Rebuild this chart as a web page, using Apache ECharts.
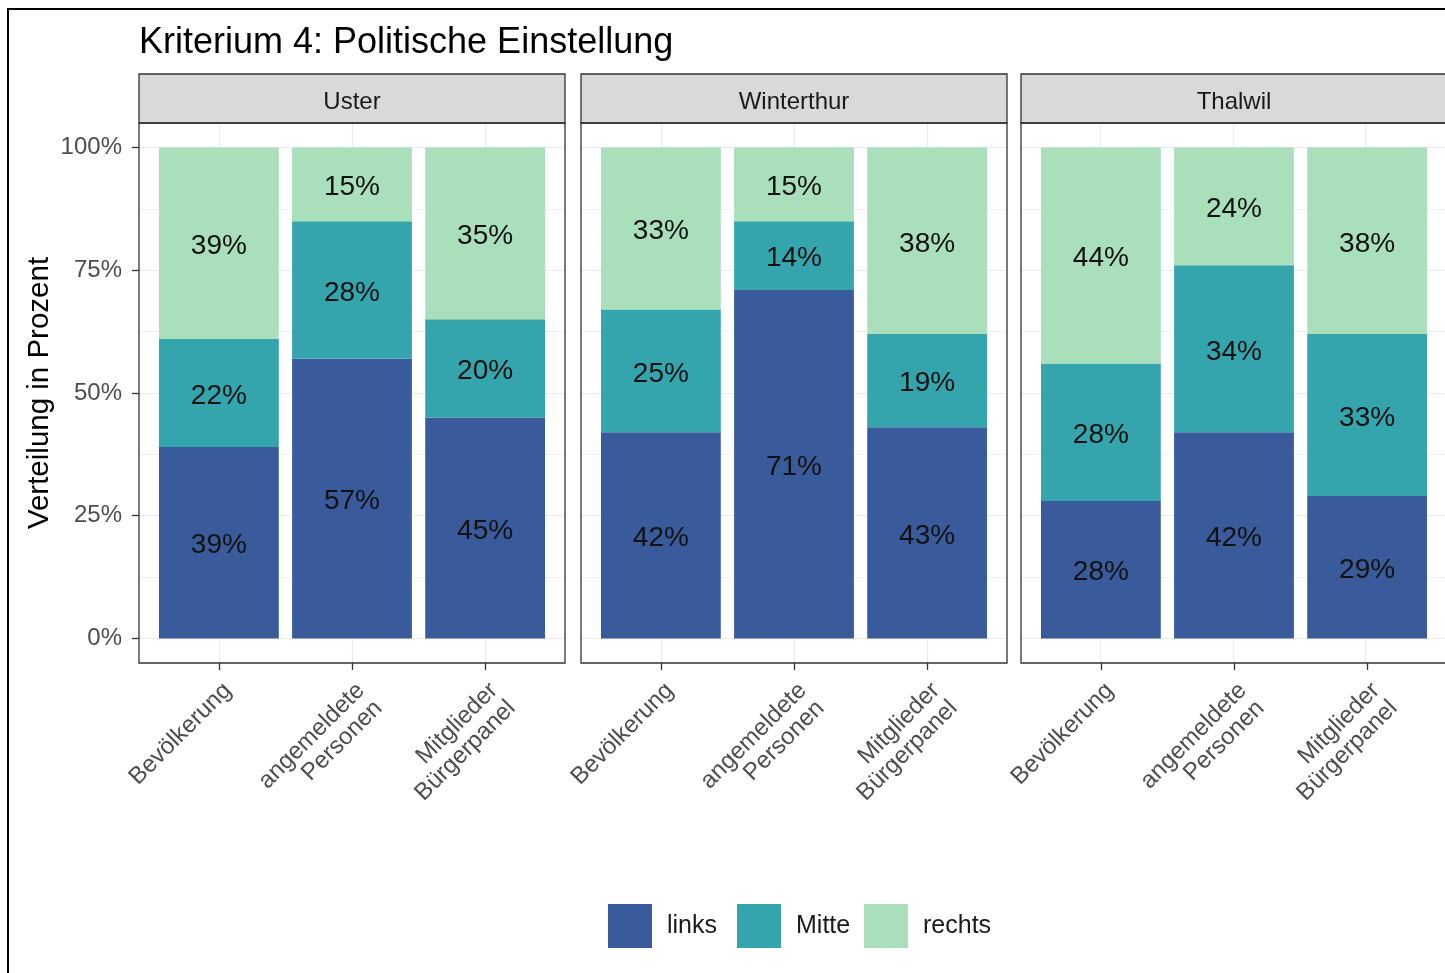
<!DOCTYPE html>
<html>
<head>
<meta charset="utf-8">
<script src="https://cdn.jsdelivr.net/npm/echarts@6/dist/echarts.min.js"></script>
<style>
html,body{margin:0;padding:0;background:#fff;}
#chart{width:1445px;height:973px;}
</style>
</head>
<body>
<div id="chart"></div>
<script>
// ---- data ----
const titleText = 'Kriterium 4: Politische Einstellung';
const yTitle = 'Verteilung in Prozent';
const cities = ['Uster', 'Winterthur', 'Thalwil'];
const groups = ['Bevölkerung', 'angemeldete\nPersonen', 'Mitglieder\nBürgerpanel'];
const seriesNames = ['links', 'Mitte', 'rechts'];
const links  = [[39, 57, 45], [42, 71, 43], [28, 42, 29]];
const mitte  = [[22, 28, 20], [25, 14, 19], [28, 34, 33]];
const rechts = [[39, 15, 35], [33, 15, 38], [44, 24, 38]];
const yTicks = [0, 25, 50, 75, 100];
const yMinor = [12.5, 37.5, 62.5, 87.5];

// ---- layout / style ----
const FONT = 'Liberation Sans, Arial, sans-serif';
const colors = ['#3a5b9b', '#35a5ad', '#a9e0bb'];
const panelLeft = [139, 581, 1021];
const panelW = 426;
const panelTop = 123;
const panelH = 540;
const stripTop = 74;
const stripH = 49;
const unit = panelW / 3.2;          // one category step (ggplot expansion 0.6 each side)
const legendLefts = [608, 737, 864];

const chart = echarts.init(document.getElementById('chart'), null, {renderer: 'canvas'});

const grids = [], xAxes = [], yAxes = [], series = [], graphics = [];
const valueSets = [links, mitte, rechts];

cities.forEach((city, c) => {
  const gBg = grids.length;
  // background grid (full panel): grid lines + y axis labels
  grids.push({left: panelLeft[c], top: panelTop, width: panelW, height: panelH, show: false});
  xAxes.push({type: 'value', gridIndex: gBg, min: 0.4, max: 3.6, show: false});
  yAxes.push({
    type: 'value', gridIndex: gBg, min: -5, max: 105,
    axisLine: {show: false}, splitLine: {show: false},
    axisTick: {show: c === 0, customValues: yTicks, length: 7, lineStyle: {color: '#333', width: 1.3}},
    axisLabel: {show: c === 0, customValues: yTicks, margin: 17, fontSize: 24, color: '#4d4d4d', fontFamily: FONT,
      formatter: v => v + '%'},
    name: c === 0 ? yTitle : '',
    nameLocation: 'middle', nameGap: 84,
    nameTextStyle: {fontSize: 29.5, color: '#000', fontFamily: FONT}
  });
  const ml = [];
  yTicks.forEach(v => ml.push({yAxis: v, lineStyle: {width: 1.2}}));
  yMinor.forEach(v => ml.push({yAxis: v, lineStyle: {width: 0.7}}));
  [1, 2, 3].forEach(v => ml.push({xAxis: v, lineStyle: {width: 1.2}}));
  series.push({
    type: 'line', name: '_grid' + c, xAxisIndex: gBg, yAxisIndex: gBg, data: [], z: 1, silent: true,
    markLine: {silent: true, z: 1, symbol: ['none', 'none'], label: {show: false},
      lineStyle: {color: '#ebebeb', type: 'solid'}, data: ml, animation: false}
  });

  // bar grid (category band area)
  const gB = grids.length;
  grids.push({left: panelLeft[c] + 0.1 * unit, top: panelTop, width: 3 * unit, height: panelH, show: false});
  xAxes.push({
    type: 'category', gridIndex: gB, data: groups, boundaryGap: true,
    axisLine: {show: false, onZero: false}, splitLine: {show: false},
    axisTick: {show: true, alignWithLabel: true, length: 7, lineStyle: {color: '#333', width: 1.3}},
    axisLabel: {
      show: true, interval: 0, rotate: 45, margin: 15,
      align: 'right', verticalAlign: 'top',
      fontSize: 24, color: '#4d4d4d', fontFamily: FONT, lineHeight: 25
    }
  });
  yAxes.push({type: 'value', gridIndex: gB, min: -5, max: 105, show: false, splitLine: {show: false}});
  seriesNames.forEach((nm, k) => {
    series.push({
      type: 'bar', name: nm, xAxisIndex: gB, yAxisIndex: gB, stack: 'st' + c, barWidth: '90%', z: 2,
      itemStyle: {color: colors[k]},
      label: {show: true, position: 'inside', offset: [0, 3], fontSize: 28, color: '#111', fontFamily: FONT,
        formatter: p => p.value + '%'},
      data: valueSets[k][c]
    });
  });

  // strip
  graphics.push({type: 'rect', z: 100, shape: {x: panelLeft[c], y: stripTop, width: panelW, height: stripH},
    style: {fill: '#d9d9d9', stroke: '#333', lineWidth: 1.3}});
  graphics.push({type: 'text', z: 101, style: {text: city, x: panelLeft[c] + panelW / 2, y: stripTop + stripH / 2 + 4,
    textAlign: 'center', textVerticalAlign: 'middle', font: '24px ' + FONT, fill: '#1a1a1a'}});
  // panel border
  graphics.push({type: 'rect', z: 100, shape: {x: panelLeft[c], y: panelTop, width: panelW, height: panelH},
    style: {fill: 'none', stroke: '#333', lineWidth: 1.3}});
});

// outer frame
graphics.push({type: 'rect', z: 100, shape: {x: 8, y: 9, width: 1470, height: 1000},
  style: {fill: 'none', stroke: '#000', lineWidth: 2}});

chart.setOption({
  animation: false,
  backgroundColor: '#fff',
  title: {text: titleText, left: 134, top: 20,
    textStyle: {fontSize: 36, fontWeight: 'normal', color: '#000', fontFamily: FONT}},
  legend: seriesNames.map((nm, k) => ({
    data: [nm], left: legendLefts[k], top: 904, padding: 0,
    itemWidth: 44, itemHeight: 44, icon: 'rect',
    textStyle: {fontSize: 25, color: '#1a1a1a', fontFamily: FONT, padding: [0, 0, 0, 10]}
  })),
  grid: grids,
  xAxis: xAxes,
  yAxis: yAxes,
  series: series,
  graphic: graphics
});
</script>
</body>
</html>
